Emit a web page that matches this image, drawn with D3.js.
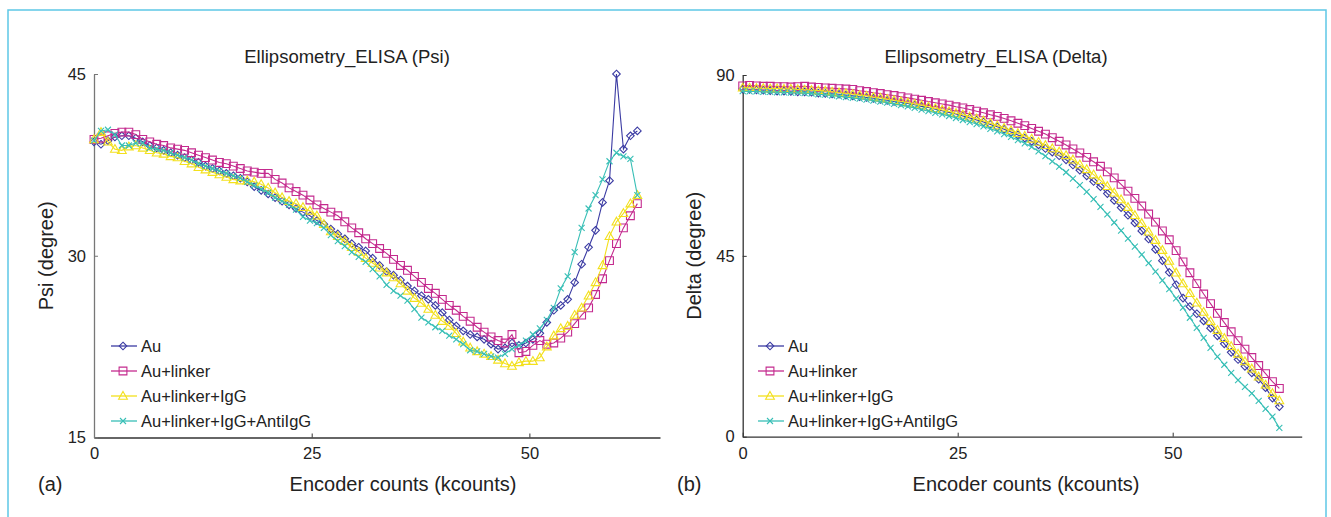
<!DOCTYPE html>
<html><head><meta charset="utf-8">
<script src="https://cdn.jsdelivr.net/npm/d3@7"></script>
<style>
html,body{margin:0;padding:0;background:#fff;}
text{font-family:"Liberation Sans",Arial,Helvetica,sans-serif;fill:#222;}
</style></head>
<body>
<svg id="chart" width="1331" height="517"></svg>
<script>
// ---------- DATA ----------
const encoderCounts = [0,0.8,1.6,2.4,3.2,4,4.8,5.6,6.4,7.2,8,8.8,9.6,10.4,11.2,12,12.8,13.6,14.4,15.2,16,16.8,17.6,18.4,19.2,20,20.8,21.6,22.4,23.2,24,24.8,25.6,26.4,27.2,28,28.8,29.6,30.4,31.2,32,32.8,33.6,34.4,35.2,36,36.8,37.6,38.4,39.2,40,40.8,41.6,42.4,43.2,44,44.8,45.6,46.4,47.2,48,48.8,49.6,50.4,51.2,52,52.8,53.6,54.4,55.2,56,56.8,57.6,58.4,59.2,60,60.8,61.6,62.4];

const seriesNames = ["Au","Au+linker","Au+linker+IgG","Au+linker+IgG+AntiIgG"];

// Psi (degree)
const psiAu = [39.4,39.2,39.5,39.8,39.9,39.9,39.7,39.4,39.1,38.9,38.7,38.5,38.3,38.1,37.9,37.7,37.4,37.2,37.0,36.8,36.6,36.4,36.1,35.7,35.4,35.1,34.8,34.5,34.2,33.9,33.6,33.3,32.9,32.6,32.2,31.8,31.4,31.0,30.7,30.4,29.8,29.2,28.7,28.4,28.0,27.5,27.1,26.7,26.4,25.9,25.3,24.7,24.2,23.8,23.5,23.3,23.1,22.7,22.3,22.4,22.8,22.6,22.8,23.1,23.6,24.5,25.5,25.9,26.4,27.8,29.3,30.7,32.1,34.4,36.2,45.0,38.8,39.9,40.3];
const psiLinker = [39.6,39.7,39.9,40.1,40.2,40.2,40.0,39.6,39.4,39.2,39.1,38.9,38.8,38.7,38.5,38.3,38.1,37.9,37.7,37.6,37.4,37.2,37.0,36.9,36.8,36.8,36.3,36.0,35.6,35.3,35.0,34.6,34.2,33.9,33.6,33.3,32.8,32.3,31.9,31.4,31.0,30.6,30.2,29.7,29.2,28.8,28.3,27.8,27.3,26.9,26.4,25.9,25.5,25.0,24.6,24.1,23.7,23.3,23.0,22.8,23.5,22.0,22.1,22.6,23.0,22.7,22.8,23.2,23.7,24.4,25.1,25.7,26.8,28.1,29.6,31.0,32.3,33.3,34.3];
const psiIgG = [39.6,40.2,39.4,38.8,38.7,39.0,39.1,38.9,38.7,38.5,38.4,38.2,38.1,37.8,37.6,37.3,37.1,36.9,36.7,36.5,36.3,36.2,36.2,36.1,35.9,35.6,35.2,34.8,34.5,34.3,34.0,33.7,33.3,32.6,32.0,31.6,31.2,30.7,30.3,29.8,29.4,29.0,28.6,28.2,27.7,27.1,26.5,26.1,25.6,25.1,24.6,24.2,23.6,22.9,22.4,22.1,21.9,21.7,21.4,21.1,20.9,21.2,21.3,21.3,21.6,22.5,23.4,24.0,24.2,25.1,25.7,26.7,27.8,29.2,31.6,32.8,33.5,34.3,35.0];
const psiAnti = [39.5,40.3,40.4,40.0,39.1,39.1,39.3,39.3,38.9,38.8,38.7,38.5,38.3,38.1,37.9,37.6,37.4,37.2,37.0,36.8,36.6,36.4,36.1,35.8,35.5,35.2,34.8,34.5,34.2,33.8,33.2,32.9,32.7,32.3,31.7,31.2,30.8,30.3,29.9,29.5,28.9,28.3,27.6,27.1,26.7,26.3,25.6,24.9,24.5,24.1,23.8,23.4,23.1,22.7,22.2,22.1,21.9,21.7,21.6,21.9,22.3,22.6,23.0,23.5,24.0,24.7,25.7,27.3,28.3,30.3,32.3,33.9,35.0,36.3,37.8,38.5,38.2,38.0,35.0];

// Delta (degree)
const deltaAu = [86.5,86.4,86.3,86.2,86.1,86.0,86.0,85.9,85.8,85.8,85.7,85.5,85.4,85.3,85.2,85.0,84.8,84.6,84.4,84.2,83.9,83.7,83.4,83.2,82.9,82.6,82.2,81.9,81.5,81.1,80.7,80.3,79.8,79.3,78.8,78.3,77.7,77.1,76.5,75.8,75.1,74.3,73.5,72.6,71.7,70.8,69.9,68.9,67.6,66.3,64.9,63.5,62.2,60.5,58.8,57.0,55.1,53.2,51.2,49.2,46.6,43.8,40.9,37.8,34.5,32.4,30.6,28.8,27.0,25.1,23.1,21.0,19.2,17.5,15.9,14.3,12.2,9.6,7.5];
const deltaLinker = [87.3,87.4,87.3,87.2,87.2,87.1,87.1,87.0,87.1,87.2,87.0,86.9,86.8,86.7,86.6,86.5,86.4,86.1,85.9,85.6,85.4,85.1,84.9,84.6,84.3,84.0,83.7,83.4,83.1,82.8,82.5,82.1,81.8,81.4,81.0,80.6,80.1,79.7,79.2,78.6,78.0,77.4,76.7,76.0,75.3,74.4,73.5,72.6,71.6,70.6,69.5,68.4,67.3,65.9,64.4,62.8,61.1,59.3,57.4,55.4,53.4,51.2,49.0,46.3,43.5,40.8,38.1,35.5,33.1,30.7,28.4,26.1,23.9,21.8,19.7,17.7,15.7,13.7,12.0];
const deltaIgG = [86.8,86.8,86.7,86.7,86.6,86.6,86.5,86.5,86.4,86.3,86.2,86.1,86.0,85.8,85.6,85.4,85.2,85.0,84.8,84.5,84.3,84.0,83.7,83.4,83.1,82.8,82.5,82.1,81.7,81.3,80.9,80.5,80.1,79.6,79.1,78.6,78.0,77.4,76.8,76.2,75.5,74.8,74.1,73.3,72.5,71.7,70.9,70.0,68.9,67.7,66.5,65.2,63.8,62.3,60.7,59.0,57.1,55.1,53.1,51.0,48.9,46.4,43.7,40.8,38.1,35.7,33.3,31.0,28.7,26.5,24.5,22.5,20.6,18.7,16.9,14.9,12.9,10.8,9.0];
const deltaAnti = [86.0,85.9,85.9,85.8,85.8,85.7,85.7,85.6,85.6,85.5,85.4,85.2,85.1,84.9,84.7,84.5,84.3,84.1,83.9,83.6,83.4,83.1,82.8,82.5,82.2,81.8,81.4,81.0,80.6,80.2,79.8,79.3,78.8,78.3,77.8,77.2,76.6,76.0,75.3,74.6,73.8,73.0,72.1,71.0,69.8,68.5,67.2,65.8,64.2,62.6,60.9,59.1,57.2,55.3,53.3,51.3,49.3,47.3,45.3,43.2,41.1,38.9,36.7,34.4,32.1,29.6,27.1,24.6,22.1,19.9,17.9,15.9,14.1,12.4,10.8,8.9,6.9,5.0,2.2];

const xTicks = [0,25,50];
const psiTicks = [15,30,45];
const deltaTicks = [0,45,90];

// ---------- STYLE ----------
const colors = ["#3b3ba3","#c42a8e","#f3e01c","#38bfb6"];
const markerKinds = ["diamond","square","triangle","x"];

function markerPath(kind){
  if(kind==="diamond") return "M0,-3.8L3.8,0L0,3.8L-3.8,0Z";
  if(kind==="square") return "M-3.9,-3.9H3.9V3.9H-3.9Z";
  if(kind==="triangle") return "M0,-4.6L4.4,3.2L-4.4,3.2Z";
  return "M-3,-3L3,3M-3,3L3,-3";
}

const svg = d3.select("#chart");
svg.append("rect").attr("x",0).attr("y",0).attr("width",1331).attr("height",517).attr("fill","#fff");
svg.append("rect").attr("x",8).attr("y",10).attr("width",1318).attr("height",540)
   .attr("fill","none").attr("stroke","#5ec7e6").attr("stroke-width",1.5);

function drawPanel(opt){
  const g = svg.append("g");
  const x = d3.scaleLinear().domain([0,65]).range([opt.x0, opt.x1]);
  const y = d3.scaleLinear().domain(opt.yDomain).range([opt.yBottom, opt.yTop]);

  const xAxis = d3.axisBottom(x).tickValues(xTicks).tickSizeInner(-4).tickSizeOuter(0).tickPadding(10);
  const gx = g.append("g").attr("transform",`translate(0,${opt.yBottom})`).call(xAxis);
  gx.select(".domain").attr("stroke","#333").attr("stroke-width",1.3);
  gx.selectAll(".tick line").attr("stroke","#333");
  gx.selectAll(".tick text").attr("font-size","16.5px").attr("fill","#333")
     .attr("font-family","Liberation Sans, Arial, sans-serif").attr("dy","0.72em");

  const yAxis = d3.axisLeft(y).tickValues(opt.yTicks).tickSizeInner(-4).tickSizeOuter(0).tickPadding(8);
  const gy = g.append("g").attr("transform",`translate(${opt.x0},0)`).call(yAxis);
  gy.select(".domain").attr("stroke",opt.yAxisColor).attr("stroke-width",1.3);
  gy.selectAll(".tick line").attr("stroke",opt.yAxisColor);
  gy.selectAll(".tick text").attr("font-size","16.5px").attr("fill","#333")
     .attr("font-family","Liberation Sans, Arial, sans-serif");

  const line = d3.line().x(d=>x(d[0])).y(d=>y(d[1]));
  opt.series.forEach((vals,i)=>{
    const pts = encoderCounts.map((c,j)=>[c,vals[j]]);
    const sg = g.append("g");
    sg.append("path").attr("d",line(pts)).attr("fill","none")
      .attr("stroke",colors[i]).attr("stroke-width",1.1);
    sg.selectAll("path.m").data(pts).enter().append("path").attr("class","m")
      .attr("transform",d=>`translate(${x(d[0])},${y(d[1])})`)
      .attr("d",markerPath(markerKinds[i]))
      .attr("fill","none").attr("stroke",colors[i]).attr("stroke-width",1.1);
  });

  g.append("text").attr("x",opt.titleX).attr("y",63).attr("text-anchor","middle")
    .attr("font-size","18.5px").text(opt.title);
  g.append("text").attr("x",opt.xLabelX).attr("y",491).attr("text-anchor","middle")
    .attr("font-size","20px").text("Encoder counts (kcounts)");
  g.append("text").attr("transform",`translate(${opt.yLabelX},${(opt.yTop+opt.yBottom)/2}) rotate(-90)`)
    .attr("text-anchor","middle").attr("font-size","20px").text(opt.yLabel);
  g.append("text").attr("x",opt.letterX).attr("y",491).attr("font-size","20px").text(opt.letter);

  const rows = [346,371,396,421];
  seriesNames.forEach((name,i)=>{
    const lg = g.append("g");
    lg.append("line").attr("x1",opt.legX).attr("x2",opt.legX+26)
      .attr("y1",rows[i]).attr("y2",rows[i]).attr("stroke",colors[i]).attr("stroke-width",1.3);
    lg.append("path").attr("transform",`translate(${opt.legX+12},${rows[i]})`)
      .attr("d",markerPath(markerKinds[i])).attr("fill","none").attr("stroke",colors[i]).attr("stroke-width",1.1);
    lg.append("text").attr("x",opt.legX+30).attr("y",rows[i]).attr("dy","0.36em")
      .attr("font-size","16.5px").text(name);
  });
}

drawPanel({
  x0:94, x1:660, yTop:74, yBottom:437.5, yDomain:[15,45], yTicks:psiTicks,
  series:[psiAu,psiLinker,psiIgG,psiAnti], yAxisColor:"#777",
  title:"Ellipsometry_ELISA (Psi)", titleX:347, xLabelX:403,
  yLabel:"Psi (degree)", yLabelX:53, letter:"(a)", letterX:38, legX:111
});
drawPanel({
  x0:742.7, x1:1301.7, yTop:75, yBottom:436.7, yDomain:[0,90], yTicks:deltaTicks,
  series:[deltaAu,deltaLinker,deltaIgG,deltaAnti], yAxisColor:"#333",
  title:"Ellipsometry_ELISA (Delta)", titleX:996, xLabelX:1026,
  yLabel:"Delta (degree)", yLabelX:701, letter:"(b)", letterX:677, legX:758
});
</script>
</body></html>
